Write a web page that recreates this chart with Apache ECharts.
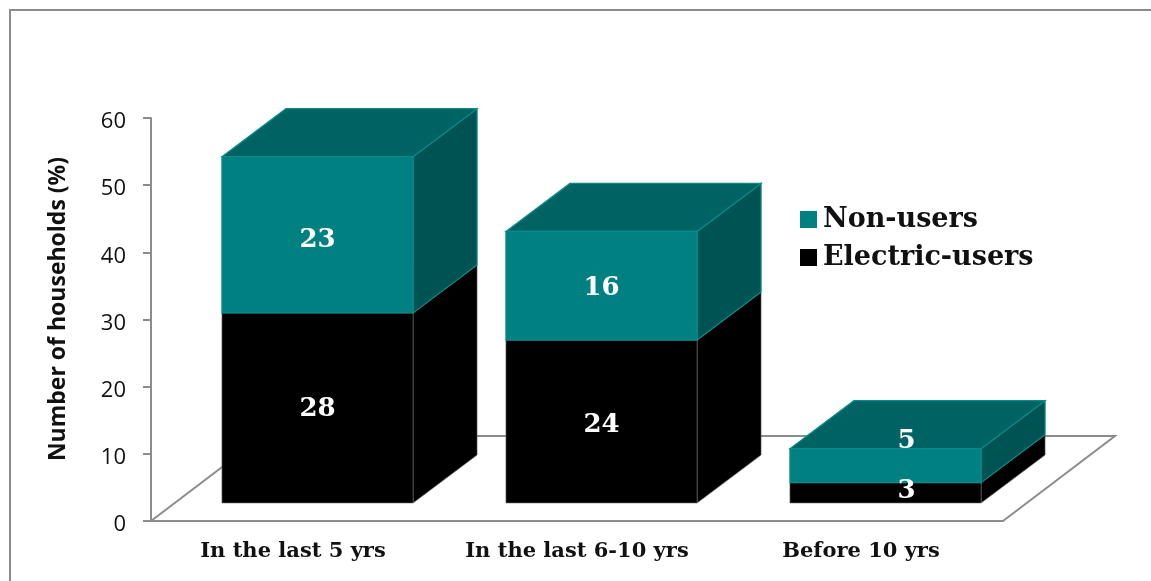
<!DOCTYPE html>
<html>
<head>
<meta charset="utf-8">
<style>html,body{margin:0;padding:0;background:#fff}#c{width:1151px;height:581px}</style>
<script src="https://cdn.jsdelivr.net/npm/echarts@6/dist/echarts.min.js"></script>
</head>
<body>
<div id="c"></div>
<script>
const categories = ['In the last 5 yrs', 'In the last 6-10 yrs', 'Before 10 yrs'];
const electricUsers = [28, 24, 3];
const nonUsers = [23, 16, 5];
const yTicks = { min: 0, max: 60, interval: 10 };

const SERIF = '"DejaVu Serif", serif';
const SANS = '"Open Sans", sans-serif';
const DEPTH = [64, -48];
const FLOOR_DEPTH = [112, -85];
const BAR_RATIO = 0.673;
const AXIS_GRAY = '#8c8c8c';

function barItem(values, bases, faces, labelShift) {
  return function (params, api) {
    const i = api.value(0);
    const lo = bases ? bases[i] : 0;
    const hi = lo + values[i];
    const cx = api.coord([i, 0])[0];
    const w = api.size([1, 0])[0] * BAR_RATIO;
    const y0 = api.coord([i, lo])[1];
    const y1 = api.coord([i, hi])[1];
    const x0 = cx - w / 2, x1 = cx + w / 2;
    const dx = DEPTH[0], dy = DEPTH[1];
    const edge = { stroke: faces.edge, lineWidth: faces.edgeWidth };
    const shift = labelShift[i];
    return {
      type: 'group',
      children: [
        { type: 'polygon', shape: { points: [[x1, y0], [x1 + dx, y0 + dy], [x1 + dx, y1 + dy], [x1, y1]] },
          style: Object.assign({ fill: faces.side }, edge) },
        { type: 'polygon', shape: { points: [[x0, y1], [x0 + dx, y1 + dy], [x1 + dx, y1 + dy], [x1, y1]] },
          style: Object.assign({ fill: faces.top }, edge) },
        { type: 'rect', shape: { x: x0, y: y1, width: w, height: y0 - y1 },
          style: Object.assign({ fill: faces.front }, edge) },
        { type: 'text', z2: 100,
          style: { x: cx + shift[0], y: (y0 + y1) / 2 + shift[1], text: String(values[i]),
                   fill: '#fff', font: 'bold 26px ' + SERIF, align: 'center', verticalAlign: 'middle' } }
      ]
    };
  };
}

const chart = echarts.init(document.getElementById('c'), null, { renderer: 'canvas' });
chart.setOption({
  animation: false,
  backgroundColor: '#fff',
  graphic: [{
    type: 'polyline', silent: true, z: -10,
    shape: { points: [[10, 581], [10, 10], [1151, 10]] },
    style: { fill: null, stroke: '#8c8c8c', lineWidth: 2 }
  }],
  legend: {
    data: ['Non-users', 'Electric-users'],
    orient: 'vertical', left: 795, top: 201,
    itemWidth: 17, itemHeight: 17, itemGap: 11,
    icon: 'rect',
    textStyle: { fontFamily: SERIF, fontWeight: 'bold', fontSize: 27, color: '#111', padding: [0, 0, 0, 1] }
  },
  grid: [
    { left: 151, width: 852, top: 118, height: 403, containLabel: false },
    { left: 175.5, width: 852, top: 95.6, height: 407.4, containLabel: false }
  ],
  xAxis: [
    { type: 'category', gridIndex: 0, data: categories,
      axisLine: { lineStyle: { color: AXIS_GRAY, width: 2 } }, axisTick: { show: false },
      axisLabel: { interval: 0, fontFamily: SERIF, fontWeight: 'bold', fontSize: 21, color: '#111', margin: 20 } },
    { type: 'category', gridIndex: 1, data: categories, show: false }
  ],
  yAxis: [
    Object.assign({ type: 'value', gridIndex: 0,
      name: 'Number of households (%)', nameLocation: 'middle', nameGap: 81,
      nameTextStyle: { fontFamily: SANS, fontWeight: 'bold', fontSize: 23, color: '#111', padding: [0, 0, 0, 21] },
      axisLine: { show: true, lineStyle: { color: AXIS_GRAY, width: 2 } },
      axisTick: { show: true, length: 8, lineStyle: { color: AXIS_GRAY, width: 2 } },
      axisLabel: { margin: 25, formatter: '{t|{value}}',
        rich: { t: { fontFamily: SANS, fontSize: 22, color: '#111', padding: [8, 0, 0, 0] } } },
      splitLine: { show: false } }, yTicks),
    Object.assign({ type: 'value', gridIndex: 1, show: false, splitLine: { show: false } }, yTicks)
  ],
  series: [
    { type: 'custom', name: 'floor', silent: true, z: 1, xAxisIndex: 0, yAxisIndex: 0, clip: false,
      data: [[0, 0]],
      renderItem: function (params) {
        const r = params.coordSys;
        const bx = r.x, by = r.y + r.height, fx = r.x + r.width;
        return { type: 'polyline',
          shape: { points: [[bx, by], [bx + FLOOR_DEPTH[0], by + FLOOR_DEPTH[1]],
                            [fx + FLOOR_DEPTH[0], by + FLOOR_DEPTH[1]], [fx, by]] },
          style: { stroke: AXIS_GRAY, lineWidth: 2, fill: null } };
      } },
    { type: 'custom', name: 'Electric-users', z: 3, xAxisIndex: 1, yAxisIndex: 1, clip: false,
      itemStyle: { color: '#000' },
      data: electricUsers.map((v, i) => [i, v]),
      renderItem: barItem(electricUsers, null,
        { front: '#000', top: '#000', side: '#000', edge: '#6e6e6e', edgeWidth: 0.6 },
        [[0, 1], [0, 4], [21, -2]]) },
    { type: 'custom', name: 'Non-users', z: 3, xAxisIndex: 1, yAxisIndex: 1, clip: false,
      itemStyle: { color: '#008080' },
      data: nonUsers.map((v, i) => [i, v]),
      renderItem: barItem(nonUsers, electricUsers,
        { front: '#008080', top: '#006363', side: '#005353', edge: '#0a8a8a', edgeWidth: 1.2 },
        [[0, 5], [0, 3], [21, -24]]) }
  ]
});
</script>
</body>
</html>
